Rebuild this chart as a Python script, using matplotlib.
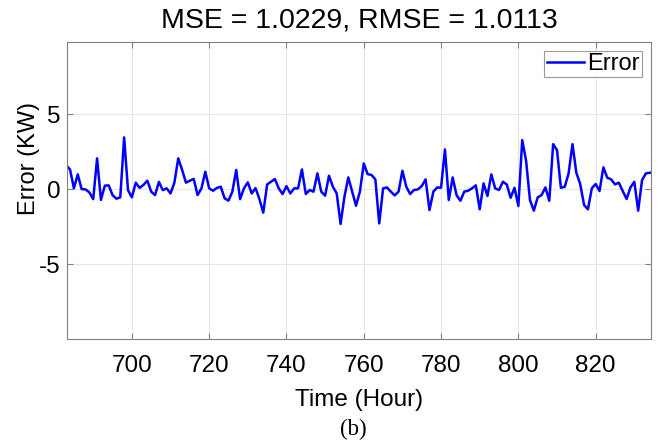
import numpy as np
import matplotlib
matplotlib.use('Agg')
import matplotlib.pyplot as plt

plt.rcParams['font.family'] = 'Liberation Sans'
plt.rcParams['axes.unicode_minus'] = False

# hourly forecast error, hours 683..834
hours = np.arange(683, 835)
error = [
    1.62, 1.33, 0.07, 1.00, 0.02, 0.00, -0.20, -0.65, 2.07, -0.70,
    0.25, 0.27, -0.38, -0.62, -0.53, 3.47, -0.05, -0.53, 0.45, 0.10,
    0.30, 0.58, -0.15, -0.38, 0.50, -0.05, 0.07, -0.27, 0.45, 2.07,
    1.30, 0.45, 0.58, 0.70, -0.38, 0.07, 1.18, 0.07, -0.09, 0.10,
    0.18, -0.60, -0.75, -0.15, 1.30, -0.65, 0.07, 0.47, -0.27, 0.09,
    -0.65, -1.55, 0.33, 0.51, 0.69, 0.07, -0.31, 0.22, -0.27, 0.07,
    0.07, 1.33, -0.31, -0.04, -0.15, 1.07, -0.15, -0.42, 0.91, 0.18,
    -0.27, -2.31, -0.49, 0.80, -0.15, -1.09, -0.15, 1.73, 1.02, 0.96,
    0.67, -2.27, 0.07, 0.13, -0.15, -0.40, -0.15, 1.24, 0.18, -0.31,
    -0.04, 0.00, 0.22, 0.67, -1.38, -0.15, 0.13, 0.11, 2.67, -0.71,
    0.80, -0.38, -0.76, -0.15, -0.09, 0.07, 0.27, -1.33, 0.40, -0.44,
    1.00, 0.07, -0.04, 0.51, 0.33, -0.56, 0.11, -1.11, 3.29, 1.91,
    -0.71, -1.42, -0.53, -0.38, 0.13, -0.76, 3.02, 2.62, 0.11, 0.18,
    1.07, 3.02, 1.11, 0.36, -1.04, -1.33, 0.07, 0.36, -0.11, 1.47,
    0.78, 0.67, 0.33, 0.45, -0.11, -0.64, 0.13, 0.51, -1.42, 0.62,
    1.07, 1.11,
]
xticks = [700, 720, 740, 760, 780, 800, 820]
yticks = [-5, 0, 5]

fig = plt.figure(figsize=(6.62, 4.4), dpi=100)
ax = fig.add_axes([0.1017, 0.229, 0.881, 0.676])
ax.plot(hours, error, color='#0000ff', lw=1.8, label='Error')
ax.set_xlim(683.3, 834.2)
ax.set_ylim(-10, 9.85)
ax.set_xticks(xticks)
ax.set_yticks(yticks)
ax.grid(True, color='#e6e6e6', lw=0.8)
ax.set_axisbelow(True)
for s in ax.spines.values():
    s.set_color('#808080')
    s.set_linewidth(0.8)
ax.tick_params(direction='in', length=4, color='#808080', labelsize=17.5,
               top=True, right=True)
ax.tick_params(axis='x', pad=11)
ax.tick_params(axis='y', pad=5)
ax.set_title('MSE = 1.0229, RMSE = 1.0113', fontsize=20.5, pad=10)
ax.set_xlabel('Time (Hour)', fontsize=17.5, labelpad=9)
ax.set_ylabel('Error (KW)', fontsize=17)
ax.yaxis.set_label_coords(-0.047, 0.609)
leg = ax.legend(loc='upper right', fontsize=17, frameon=True, fancybox=False,
                borderpad=0.1, handlelength=1.6, handletextpad=0.1,
                borderaxespad=0.38)
leg.get_frame().set_edgecolor('#808080')
leg.get_frame().set_linewidth(0.8)
fig.text(0.533, 0.025, '(b)', fontsize=16.5, family='Liberation Serif',
         ha='center', va='center')

plt.savefig('out.png', dpi=100)
